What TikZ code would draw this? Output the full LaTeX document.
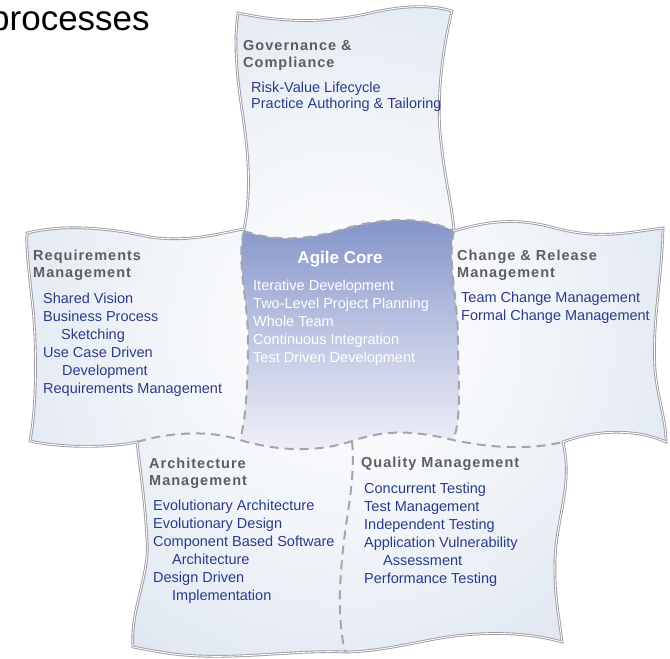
\documentclass[tikz,border=0pt]{standalone}
\usepackage{fontspec}
\setmainfont{Liberation Sans}
\newfontfamily\headfont[LetterSpace=7]{Liberation Sans}
\usetikzlibrary{positioning}

\definecolor{itemblue}{HTML}{2B3B8C}
\definecolor{headgray}{HTML}{5E5E5E}
\definecolor{rimgray}{HTML}{9C9CA6}
\definecolor{dashgray}{HTML}{A5A5AD}
\definecolor{coreblue}{HTML}{8292C9}
\definecolor{corelight}{HTML}{F0F0F7}
\definecolor{glowA}{HTML}{F2F5F9}
\definecolor{glowB}{HTML}{D8E1ED}
\definecolor{glowC}{HTML}{C4D2E4}
\definecolor{glowD}{HTML}{B6C5DA}

\pgfdeclareradialshading{crossglow}{\pgfpoint{0bp}{0bp}}{%
  color(0bp)=(white); color(15bp)=(glowA); color(35bp)=(glowB);
  color(50bp)=(glowC); color(70bp)=(glowD)}

\begin{document}
\begin{tikzpicture}[
        x=1pt, y=-1pt,
        rim/.style={draw=rimgray, line width=0.9pt, double=white, double distance=0.9pt},
        seam/.style={draw=dashgray, line width=2pt, dash pattern=on 9pt off 6pt},
        head/.style={anchor=base west, inner sep=0pt, align=left, text=headgray,
                     font=\headfont\bfseries\fontsize{14.5}{17}\selectfont},
        item/.style={anchor=base west, inner sep=0pt, align=left, text=itemblue,
                     font=\fontsize{14.5}{18}\selectfont},
        corehead/.style={anchor=base, inner sep=0pt, text=white,
                     font=\bfseries\fontsize{17}{20}\selectfont},
        coreitem/.style={item, text=white},
      ]
        \useasboundingbox (0,0) rectangle (670,659);

        % the cross with its five pieces
        \path[shading=crossglow]
          (238,13) .. controls (290,24) and (330,22) .. (370,13)
                   .. controls (400,6) and (430,4) .. (452,11)
                   .. controls (440,60) and (436,110) .. (442,150)
                   .. controls (446,185) and (452,205) .. (454,231)
                   .. controls (490,220) and (520,218) .. (555,228)
                   .. controls (600,240) and (630,232) .. (663,228)
                   .. controls (662,280) and (652,320) .. (655,370)
                   .. controls (658,400) and (666,420) .. (666,442)
                   .. controls (640,430) and (600,428) .. (563,442)
                   .. controls (572,480) and (560,510) .. (556,545)
                   .. controls (552,590) and (560,620) .. (562,642)
                   .. controls (520,630) and (470,632) .. (430,640)
                   .. controls (400,646) and (370,652) .. (345,652)
                   .. controls (300,650) and (250,658) .. (200,656)
                   .. controls (170,655) and (150,650) .. (133,647)
                   .. controls (130,610) and (150,575) .. (147,540)
                   .. controls (145,500) and (140,470) .. (137,442)
                   .. controls (110,448) and (60,448) .. (30,441)
                   .. controls (38,400) and (36,330) .. (32,300)
                   .. controls (29,270) and (26,250) .. (27,233)
                   .. controls (60,225) and (100,226) .. (150,237)
                   .. controls (190,243) and (225,232) .. (244,229)
                   .. controls (252,190) and (248,150) .. (242,110)
                   .. controls (236,70) and (234,40) .. (238,13) -- cycle;

        % agile core
        \path[top color=coreblue, bottom color=corelight, middle color=coreblue!45!corelight]
          (244,231) .. controls (270,240) and (300,242) .. (340,230)
                    .. controls (380,218) and (420,215) .. (454,231)
                    .. controls (447,260) and (458,300) .. (458,340)
                    .. controls (458,380) and (462,420) .. (453,440)
                    .. controls (420,432) and (390,428) .. (352,441)
                    .. controls (320,452) and (280,452) .. (240,440)
                    .. controls (246,420) and (248,380) .. (248,340)
                    .. controls (248,300) and (236,260) .. (244,231) -- cycle;

        % seams
        \draw[seam] (244,231) .. controls (270,240) and (300,242) .. (340,230)
                              .. controls (380,218) and (420,215) .. (454,231);
        \draw[seam] (244,231) .. controls (236,260) and (248,300) .. (248,340)
                              .. controls (248,380) and (246,420) .. (240,440);
        \draw[seam] (454,231) .. controls (447,260) and (458,300) .. (458,340)
                              .. controls (458,380) and (462,420) .. (453,440);
        \draw[seam] (137,442) .. controls (170,432) and (210,430) .. (240,440)
                              .. controls (280,452) and (320,452) .. (352,441)
                              .. controls (390,428) and (420,432) .. (453,440)
                              .. controls (490,448) and (530,450) .. (563,442);
        \draw[seam] (352,441) .. controls (356,480) and (345,520) .. (342,560)
                              .. controls (338,600) and (340,630) .. (345,652);

        % outline
        \draw[rim]
          (238,13) .. controls (290,24) and (330,22) .. (370,13)
                   .. controls (400,6) and (430,4) .. (452,11)
                   .. controls (440,60) and (436,110) .. (442,150)
                   .. controls (446,185) and (452,205) .. (454,231)
                   .. controls (490,220) and (520,218) .. (555,228)
                   .. controls (600,240) and (630,232) .. (663,228)
                   .. controls (662,280) and (652,320) .. (655,370)
                   .. controls (658,400) and (666,420) .. (666,442)
                   .. controls (640,430) and (600,428) .. (563,442)
                   .. controls (572,480) and (560,510) .. (556,545)
                   .. controls (552,590) and (560,620) .. (562,642)
                   .. controls (520,630) and (470,632) .. (430,640)
                   .. controls (400,646) and (370,652) .. (345,652)
                   .. controls (300,650) and (250,658) .. (200,656)
                   .. controls (170,655) and (150,650) .. (133,647)
                   .. controls (130,610) and (150,575) .. (147,540)
                   .. controls (145,500) and (140,470) .. (137,442)
                   .. controls (110,448) and (60,448) .. (30,441)
                   .. controls (38,400) and (36,330) .. (32,300)
                   .. controls (29,270) and (26,250) .. (27,233)
                   .. controls (60,225) and (100,226) .. (150,237)
                   .. controls (190,243) and (225,232) .. (244,229)
                   .. controls (252,190) and (248,150) .. (242,110)
                   .. controls (236,70) and (234,40) .. (238,13) -- cycle;

        \node[anchor=base west, inner sep=0pt, font=\fontsize{35}{40}\selectfont] (title) at (-10,30) {processes};

        % each node sits on the baseline of its last line
        \node[head] (govhead) at (243,67)  {Governance \&\\Compliance};
        \node[item, font=\fontsize{14.5}{15.5}\selectfont] (govlist) at (251,108)
          {Risk-Value Lifecycle\\Practice Authoring \& Tailoring};

        \node[head] (reqhead) at (33,277)  {Requirements\\Management};
        \node[item] (reqlist) at (43,393)
          {Shared Vision\\Business Process\\\hspace*{18pt}Sketching\\Use Case Driven\\\hspace*{19pt}Development\\Requirements Management};

        \node[corehead] (corehead) at (340,263) {Agile Core};
        \node[coreitem] (corelist) at (253,362)
          {Iterative Development\\Two-Level Project Planning\\Whole Team\\Continuous Integration\\Test Driven Development};

        \node[head] (chghead) at (457,277) {Change \& Release\\Management};
        \node[item] (chglist) at (461,320)
          {Team Change Management\\Formal Change Management};

        \node[head] (archead) at (149,485) {Architecture\\Management};
        \node[item] (arclist) at (153,600)
          {Evolutionary Architecture\\Evolutionary Design\\Component Based Software\\\hspace*{19pt}Architecture\\Design Driven\\\hspace*{19pt}Implementation};

        \node[head] (qualhead) at (361,467) {Quality Management};
        \node[item] (quallist) at (364,583)
          {Concurrent Testing\\Test Management\\Independent Testing\\Application Vulnerability\\\hspace*{19pt}Assessment\\Performance Testing};
      \end{tikzpicture}
\end{document}
